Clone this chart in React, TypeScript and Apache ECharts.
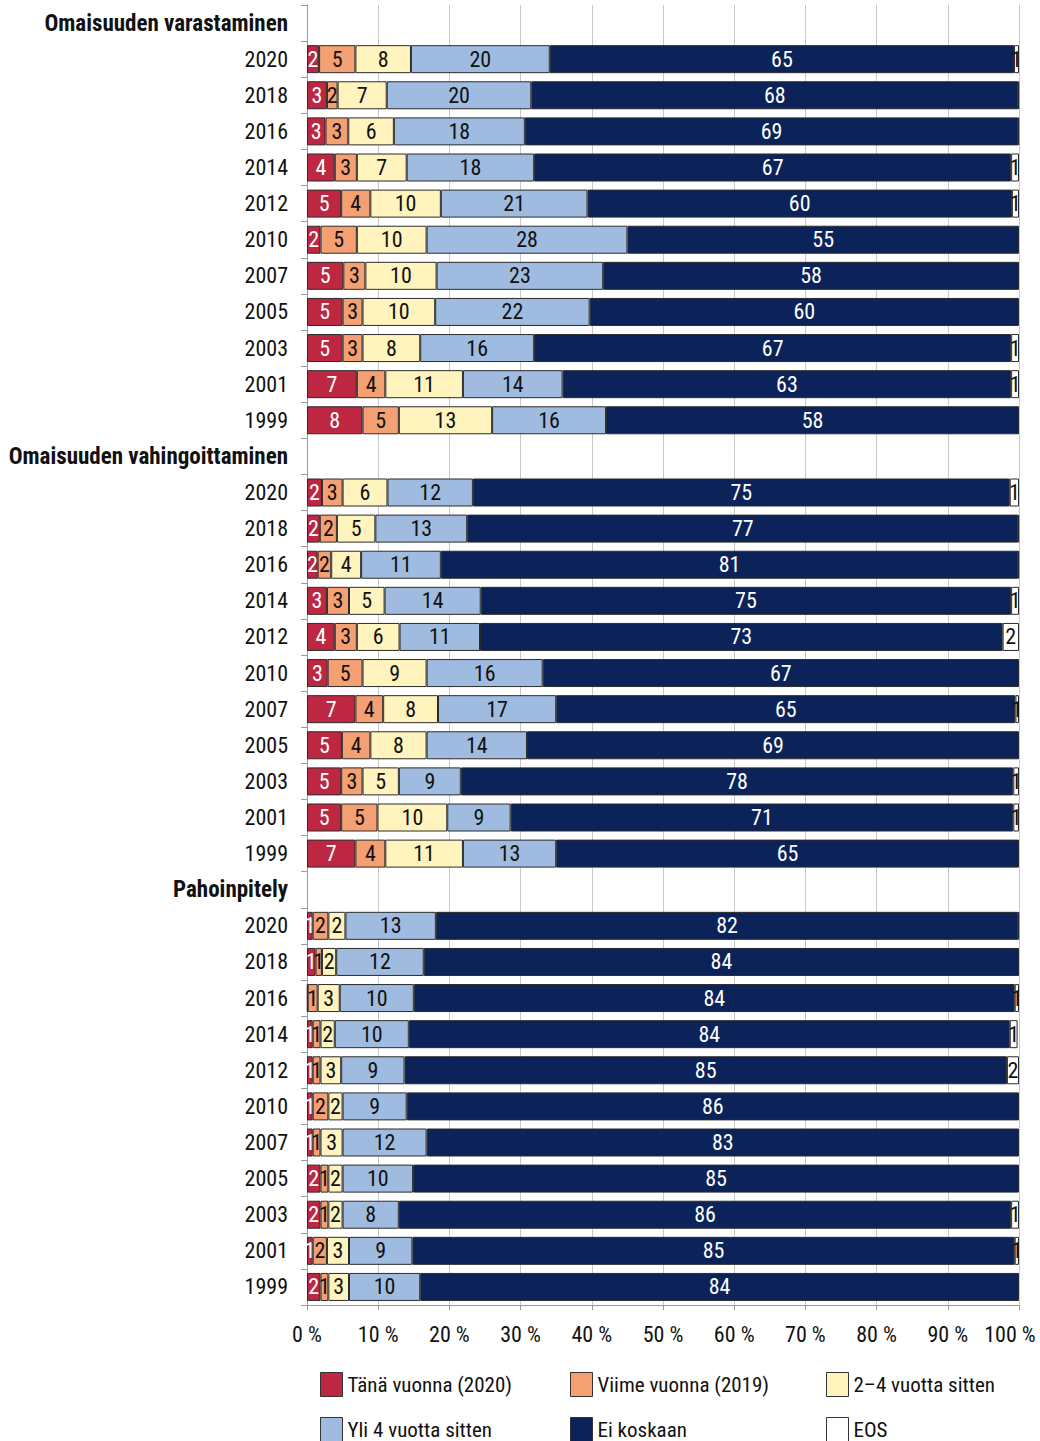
import React, { useEffect, useRef } from "react";
import * as echarts from "echarts";

const sections = ["Omaisuuden varastaminen", "Omaisuuden vahingoittaminen", "Pahoinpitely"];
const years = ["2020", "2018", "2016", "2014", "2012", "2010", "2007", "2005", "2003", "2001", "1999"];
const xTicks = [0, 10, 20, 30, 40, 50, 60, 70, 80, 90, 100];

const seriesNames = [
  "Tänä vuonna (2020)",
  "Viime vuonna (2019)",
  "2–4 vuotta sitten",
  "Yli 4 vuotta sitten",
  "Ei koskaan",
  "EOS",
];

// Omaisuuden varastaminen
const theftThisYear = [1.7, 2.8, 2.6, 3.9, 4.8, 1.9, 5.1, 5.0, 5.0, 7.0, 7.8];
const theftLastYear = [5.1, 1.5, 3.2, 3.1, 4.1, 5.1, 3.1, 2.8, 2.8, 4.0, 5.1];
const theft2to4 = [7.8, 6.9, 6.4, 7.0, 9.9, 9.8, 10.0, 10.2, 8.1, 10.9, 13.1];
const theftOver4 = [19.5, 20.3, 18.4, 17.9, 20.6, 28.2, 23.4, 21.7, 16.0, 14.0, 16.0];
const theftNever = [65.2, 68.4, 69.3, 67.0, 59.6, 55.0, 58.4, 60.3, 67.0, 63.0, 58.0];
const theftEos = [0.7, 0.1, 0.1, 1.1, 1.0, 0, 0, 0, 1.1, 1.1, 0];

// Omaisuuden vahingoittaminen
const damageThisYear = [2.1, 1.8, 1.5, 2.8, 3.9, 2.9, 6.8, 4.9, 4.8, 4.8, 6.8];
const damageLastYear = [2.9, 2.4, 1.9, 3.1, 3.1, 4.9, 3.9, 4.0, 3.0, 5.1, 4.2];
const damage2to4 = [6.3, 5.4, 4.2, 5.0, 6.0, 9.0, 7.7, 7.9, 5.1, 9.8, 10.9];
const damageOver4 = [12.0, 12.9, 11.2, 13.5, 11.3, 16.3, 16.6, 14.1, 8.7, 8.9, 13.1];
const damageNever = [75.4, 77.4, 81.1, 74.5, 73.4, 66.9, 64.5, 69.1, 77.6, 70.6, 65.0];
const damageEos = [1.3, 0.1, 0.1, 1.1, 2.3, 0, 0.5, 0, 0.8, 0.8, 0];

// Pahoinpitely
const assaultThisYear = [0.8, 1.2, 0.1, 0.8, 0.8, 0.8, 0.8, 1.9, 1.9, 0.8, 1.9];
const assaultLastYear = [2.2, 0.9, 1.4, 1.1, 1.1, 2.2, 1.1, 1.1, 1.1, 2.0, 1.1];
const assault2to4 = [2.4, 2.0, 3.1, 2.0, 2.9, 2.0, 3.1, 2.0, 2.0, 3.1, 2.9];
const assaultOver4 = [12.7, 12.3, 10.4, 10.4, 8.9, 9.0, 11.8, 9.9, 7.9, 8.9, 10.0];
const assaultNever = [81.8, 83.6, 84.4, 84.4, 84.6, 86.0, 83.2, 85.1, 86.0, 84.6, 84.1];
const assaultEos = [0.1, 0, 0.6, 1.1, 1.7, 0, 0, 0, 1.1, 0.6, 0];

const colors = ["#BE2742", "#F4A073", "#FFF4BE", "#9FBBDF", "#0B2358", "#FFFFFF"];
const labelColors = ["#FFFFFF", "#111111", "#111111", "#111111", "#FFFFFF", "#111111"];

const FONT = "'Roboto Condensed', 'DejaVu Sans Condensed', sans-serif";
const FS = 22;

export default function App() {
  const ref = useRef<HTMLDivElement>(null);

  useEffect(() => {
    document.body.style.margin = "0";
    if (!ref.current) return;
    const chart = echarts.init(ref.current, null, { renderer: "svg" });

    const sectionData = [
      [theftThisYear, theftLastYear, theft2to4, theftOver4, theftNever, theftEos],
      [damageThisYear, damageLastYear, damage2to4, damageOver4, damageNever, damageEos],
      [assaultThisYear, assaultLastYear, assault2to4, assaultOver4, assaultNever, assaultEos],
    ];

    const categories: string[] = [];
    sections.forEach((s, si) => {
      categories.push("H|" + s);
      years.forEach((y) => categories.push(si + "|" + y));
    });

    const series = seriesNames.map((name, k) => {
      const data: (number | null)[] = [];
      sectionData.forEach((sec) => {
        data.push(null);
        sec[k].forEach((v) => data.push(v === 0 ? null : v));
      });
      return {
        name,
        type: "bar",
        stack: "total",
        barWidth: 28,
        data,
        itemStyle: { color: colors[k], borderColor: "#2b2b2b", borderWidth: 1 },
        label: {
          show: true,
          position: "inside",
          color: labelColors[k],
          fontSize: FS,
          fontFamily: FONT,
          formatter: (p: any) => (p.value == null || p.value < 0.5 ? "" : String(Math.round(p.value))),
        },
        emphasis: { disabled: true },
      };
    });

    const legendCommon = {
      orient: "vertical",
      top: 1372,
      height: 120,
      padding: 0,
      itemGap: 20,
      itemWidth: 22,
      itemHeight: 24,
      icon: "rect",
      selectedMode: false,
      textStyle: { fontSize: 21, fontFamily: FONT, color: "#111", lineHeight: 24 },
      itemStyle: { borderColor: "#333", borderWidth: 1 },
    };

    chart.setOption({
      animation: false,
      textStyle: { fontFamily: FONT },
      grid: { left: 307, right: 21, top: 5, height: 1300, containLabel: false, outerBoundsMode: "none" },
      legend: [
        { ...legendCommon, left: 320, data: [seriesNames[0], seriesNames[3]] },
        { ...legendCommon, left: 570, data: [seriesNames[1], seriesNames[4]] },
        { ...legendCommon, left: 826, data: [seriesNames[2], seriesNames[5]] },
      ],
      xAxis: {
        type: "value",
        min: xTicks[0],
        max: xTicks[xTicks.length - 1],
        interval: xTicks[1] - xTicks[0],
        axisLine: { show: true, lineStyle: { color: "#9a9a9a" } },
        axisTick: { show: true, length: 5, lineStyle: { color: "#9a9a9a" } },
        splitLine: { show: true, lineStyle: { color: "#c8c8c8", width: 1 } },
        axisLabel: {
          fontSize: FS,
          fontFamily: FONT,
          color: "#111",
          margin: 18,
          formatter: (v: number) => (v === xTicks[xTicks.length - 1] ? "{m|" + v + " %}" : v + " %"),
          rich: {
            m: { fontSize: FS, fontFamily: FONT, color: "#111", padding: [0, 18, 0, 0] },
          },
        },
      },
      yAxis: {
        type: "category",
        inverse: true,
        data: categories,
        axisLine: { show: true, lineStyle: { color: "#9a9a9a" } },
        axisTick: { show: true, length: 6, lineStyle: { color: "#9a9a9a" } },
        axisLabel: {
          fontSize: FS,
          fontFamily: FONT,
          color: "#111",
          margin: 19,
          interval: 0,
          formatter: (v: string) => {
            const [tag, text] = v.split("|");
            return tag === "H" ? "{h|" + text + "}" : text;
          },
          rich: {
            h: { fontSize: 23, fontWeight: "bold", fontFamily: FONT, color: "#111" },
          },
        },
      },
      series,
    });

    return () => chart.dispose();
  }, []);

  return <div ref={ref} style={{ width: 1040, height: 1441 }} />;
}
